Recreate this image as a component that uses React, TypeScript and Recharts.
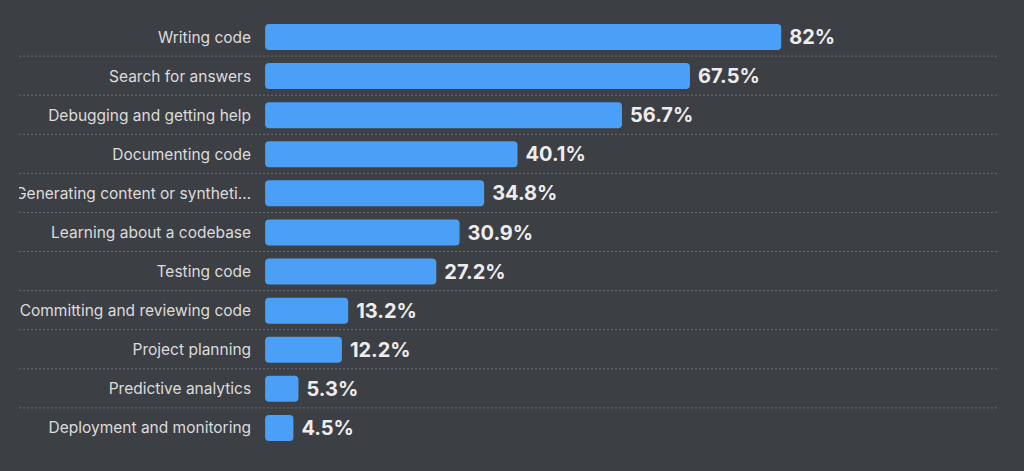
import React from "react";
import { BarChart, Bar, XAxis, YAxis, CartesianGrid, LabelList } from "recharts";

const tasks = [
  "Writing code",
  "Search for answers",
  "Debugging and getting help",
  "Documenting code",
  "Generating content or synthetic data",
  "Learning about a codebase",
  "Testing code",
  "Committing and reviewing code",
  "Project planning",
  "Predictive analytics",
  "Deployment and monitoring",
];

const shares = [82, 67.5, 56.7, 40.1, 34.8, 30.9, 27.2, 13.2, 12.2, 5.3, 4.5];

const data = tasks.map((name, i) => ({ name, value: shares[i] }));

const shorten = (s: any) => {
  const str = String(s);
  return str.length > 30 ? str.slice(0, 30) + "…" : str;
};

// gridlines sit between the categories, not on them
const bandLines = ({ offset }: any) => {
  const n = tasks.length;
  const step = offset.height / n;
  return Array.from({ length: n - 1 }, (_, i) => offset.top + step * (i + 1));
};

export default function App() {
  return (
    <div
      style={{
        position: "fixed",
        left: 0,
        top: 0,
        width: 1024,
        height: 471,
        background: "#3c3f44",
        overflow: "hidden",
        fontFamily: "Inter, 'Noto Sans', sans-serif",
      }}
    >
      <div style={{ position: "absolute", left: 19, top: 0 }}>
        <BarChart
          width={1005}
          height={471}
          data={data}
          layout="vertical"
          margin={{ top: 17, right: 25, bottom: 24, left: 0 }}
        >
          <CartesianGrid
            vertical={false}
            stroke="#686b70"
            strokeDasharray="2 2"
            horizontalCoordinatesGenerator={bandLines}
          />
          <XAxis
            type="number"
            domain={[-39.1, 116.6]}
            allowDataOverflow
            hide
          />
          <YAxis type="category" dataKey="name" hide />
          <Bar
            dataKey="value"
            fill="#4b9ff6"
            barSize={26}
            radius={4}
            isAnimationActive={false}
          >
            <LabelList
              dataKey="name"
              position="left"
              offset={14}
              formatter={shorten}
              fill="#dcdcdc"
              fontSize={15.5}
            />
            <LabelList
              dataKey="value"
              position="right"
              offset={8}
              formatter={(v: any) => `${v}%`}
              fill="#ededed"
              fontSize={20}
              fontWeight={700}
            />
          </Bar>
        </BarChart>
      </div>
    </div>
  );
}
